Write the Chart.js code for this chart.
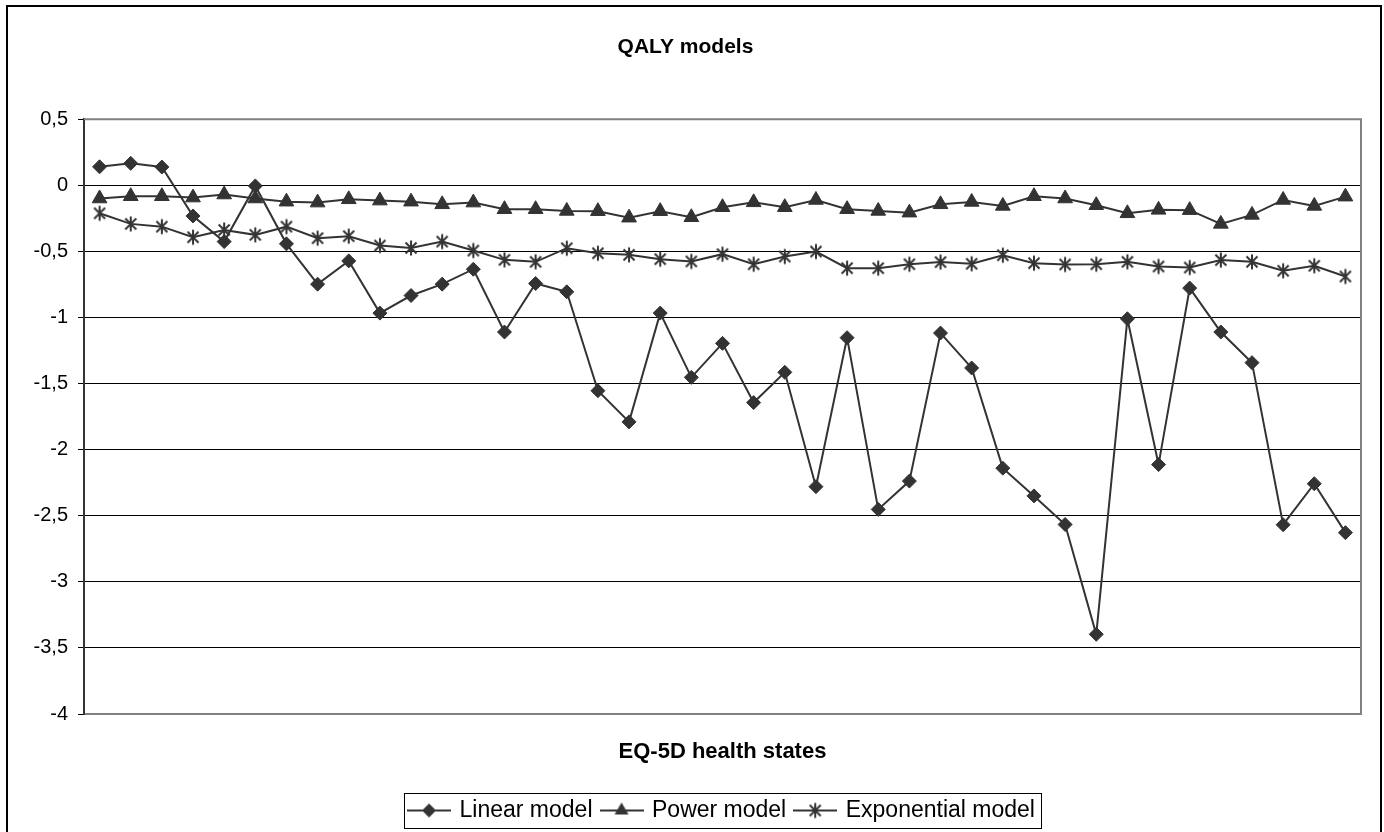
<!DOCTYPE html>
<html>
<head>
<meta charset="utf-8">
<script src="https://cdn.jsdelivr.net/npm/chart.js@4.4.0/dist/chart.umd.min.js"></script>
<style>
  html, body { margin: 0; padding: 0; background: #fff; }
  #wrap { width: 1384px; height: 832px; position: relative; }
</style>
</head>
<body>
<div id="wrap"><canvas id="qalyChart"></canvas></div>
<script>
// 41 EQ-5D health states (no labels shown on the axis)
const healthStates = [
  '1', '2', '3', '4', '5', '6', '7', '8', '9', '10',
  '11', '12', '13', '14', '15', '16', '17', '18', '19', '20',
  '21', '22', '23', '24', '25', '26', '27', '28', '29', '30',
  '31', '32', '33', '34', '35', '36', '37', '38', '39', '40', '41'
];

const linearModel = [
  0.14, 0.166, 0.138, -0.232, -0.426, -0.005, -0.443, -0.748, -0.572, -0.967,
  -0.834, -0.748, -0.635, -1.11, -0.743, -0.806, -1.554, -1.79, -0.967, -1.453,
  -1.196, -1.644, -1.415, -2.28, -1.153, -2.452, -2.238, -1.118, -1.382, -2.14,
  -2.35, -2.566, -3.397, -1.01, -2.113, -0.778, -1.11, -1.342, -2.568, -2.258, -2.628
];

const powerModel = [
  -0.10, -0.083, -0.083, -0.093, -0.07, -0.10, -0.124, -0.131, -0.106, -0.116,
  -0.124, -0.144, -0.131, -0.181, -0.181, -0.194, -0.196, -0.245, -0.196, -0.242,
  -0.166, -0.129, -0.166, -0.111, -0.181, -0.194, -0.207, -0.144, -0.126, -0.156,
  -0.083, -0.10, -0.151, -0.212, -0.186, -0.188, -0.292, -0.224, -0.111, -0.156, -0.086
];

const exponentialModel = [
  -0.212, -0.292, -0.313, -0.393, -0.338, -0.375, -0.313, -0.40, -0.385, -0.456,
  -0.474, -0.426, -0.494, -0.564, -0.579, -0.476, -0.514, -0.526, -0.559, -0.576,
  -0.521, -0.597, -0.539, -0.501, -0.627, -0.627, -0.597, -0.581, -0.594, -0.529,
  -0.589, -0.599, -0.597, -0.579, -0.614, -0.622, -0.566, -0.579, -0.647, -0.609, -0.69
];

const seriesNames = ['Linear model', 'Power model', 'Exponential model'];
const yMin = -4;
const yMax = 0.5;
const yStep = 0.5;

const INK = '#333333';
const FONT = "'Liberation Sans', Arial, sans-serif";

// excel-ish asterisk marker: X plus a vertical stroke
function drawStar(g, cx, cy) {
  g.beginPath();
  g.moveTo(cx - 5.5, cy - 5.5); g.lineTo(cx + 5.5, cy + 5.5);
  g.moveTo(cx + 5.5, cy - 5.5); g.lineTo(cx - 5.5, cy + 5.5);
  g.moveTo(cx, cy - 7.5); g.lineTo(cx, cy + 7.5);
  g.stroke();
}
function drawDiamond(g, cx, cy) {
  g.beginPath();
  g.moveTo(cx - 7, cy); g.lineTo(cx, cy - 7); g.lineTo(cx + 7, cy); g.lineTo(cx, cy + 7);
  g.closePath(); g.fill();
}
function drawTriangle(g, cx, cy) {
  g.beginPath();
  g.moveTo(cx, cy - 8); g.lineTo(cx + 7, cy + 4); g.lineTo(cx - 7, cy + 4);
  g.closePath(); g.fill();
}

function makeStarImage() {
  const c = document.createElement('canvas');
  c.width = 18; c.height = 18;
  const g = c.getContext('2d');
  g.strokeStyle = INK; g.lineWidth = 2;
  drawStar(g, 9, 9);
  return c;
}

// legend sample: line with marker in the middle
function makeLegendIcon(kind) {
  const c = document.createElement('canvas');
  c.width = 44; c.height = 20;
  const g = c.getContext('2d');
  g.strokeStyle = INK; g.fillStyle = INK; g.lineWidth = 2;
  g.beginPath(); g.moveTo(0, 10); g.lineTo(44, 10); g.stroke();
  if (kind === 'diamond') drawDiamond(g, 22, 10);
  if (kind === 'triangle') drawTriangle(g, 22, 10);
  if (kind === 'star') drawStar(g, 22, 10);
  return c;
}

const starImage = makeStarImage();
const legendIcons = [makeLegendIcon('diamond'), makeLegendIcon('triangle'), makeLegendIcon('star')];

// frame around the whole chart, the plot area and the legend
const framePlugin = {
  id: 'frames',
  beforeDatasetsDraw(chart) {
    const { ctx, chartArea } = chart;
    ctx.save();
    ctx.strokeStyle = '#808080';
    ctx.lineWidth = 2;
    ctx.beginPath();
    ctx.moveTo(chartArea.left, chartArea.top);
    ctx.lineTo(chartArea.right, chartArea.top);
    ctx.lineTo(chartArea.right, chartArea.bottom);
    ctx.stroke();
    ctx.restore();
  },
  afterDraw(chart) {
    const ctx = chart.ctx;
    ctx.save();
    ctx.strokeStyle = '#000';
    ctx.lineWidth = 2;
    ctx.strokeRect(7, 6, 1374, 900);

    const legend = chart.legend;
    if (legend && legend.legendHitBoxes.length) {
      const boxes = legend.legendHitBoxes;
      const left = Math.min(...boxes.map(b => b.left)) - 6;
      const right = Math.max(...boxes.map(b => b.left + b.width)) + 6;
      ctx.strokeStyle = '#000';
      ctx.lineWidth = 1;
      ctx.strokeRect(Math.round(left) + 0.5, Math.round(legend.top + 4) + 0.5,
        Math.round(right - left), 35);
    }
    ctx.restore();
  }
};

function lineDataset(label, data, pointStyle, radius) {
  return {
    label: label,
    data: data,
    borderColor: INK,
    backgroundColor: INK,
    borderWidth: 2,
    pointStyle: pointStyle,
    pointRadius: radius,
    pointHoverRadius: radius,
    pointBorderWidth: 1,
    pointBackgroundColor: INK,
    pointBorderColor: INK,
    tension: 0
  };
}

new Chart(document.getElementById('qalyChart'), {
  type: 'line',
  data: {
    labels: healthStates,
    datasets: [
      lineDataset(seriesNames[0], linearModel, 'rectRot', 7),
      lineDataset(seriesNames[1], powerModel, 'triangle', 8.5),
      lineDataset(seriesNames[2], exponentialModel, starImage, 8)
    ]
  },
  options: {
    responsive: true,
    maintainAspectRatio: false,
    animation: false,
    events: [],
    layout: { padding: { left: 10, right: 23, top: 0, bottom: 0 } },
    plugins: {
      tooltip: { enabled: false },
      title: {
        display: true,
        text: 'QALY models',
        color: '#000',
        font: { family: FONT, size: 21, weight: 'bold', lineHeight: 1.2 },
        padding: { top: 35, bottom: 59 }
      },
      legend: {
        position: 'bottom',
        fullSize: false,
        labels: {
          usePointStyle: true,
          pointStyleWidth: 38,
          padding: 10,
          color: '#000',
          font: { family: FONT, size: 23 },
          generateLabels: (chart) => chart.data.datasets.map((ds, i) => ({
            text: ds.label,
            pointStyle: legendIcons[i],
            fillStyle: INK,
            strokeStyle: INK,
            lineWidth: 0,
            hidden: false,
            datasetIndex: i,
            fontColor: '#000'
          }))
        }
      }
    },
    scales: {
      x: {
        offset: true,
        grid: { display: false, drawTicks: false },
        border: { display: true, color: '#808080', width: 2 },
        ticks: { display: false },
        title: {
          display: true,
          text: 'EQ-5D health states',
          color: '#000',
          font: { family: FONT, size: 22, weight: 'bold', lineHeight: 1.2 },
          padding: { top: 0, bottom: 24 }
        },
        afterFit: (scale) => { scale.height = 75; }
      },
      y: {
        min: yMin,
        max: yMax,
        ticks: {
          stepSize: yStep,
          color: '#000',
          padding: 10,
          font: { family: FONT, size: 20 },
          callback: (v) => String(v).replace('.', ',')
        },
        grid: { color: '#000', lineWidth: 1, tickLength: 6, drawTicks: true },
        border: { display: true, color: '#333', width: 2 },
        afterFit: (scale) => { scale.width = 74; }
      }
    }
  },
  plugins: [framePlugin]
});
</script>
</body>
</html>
